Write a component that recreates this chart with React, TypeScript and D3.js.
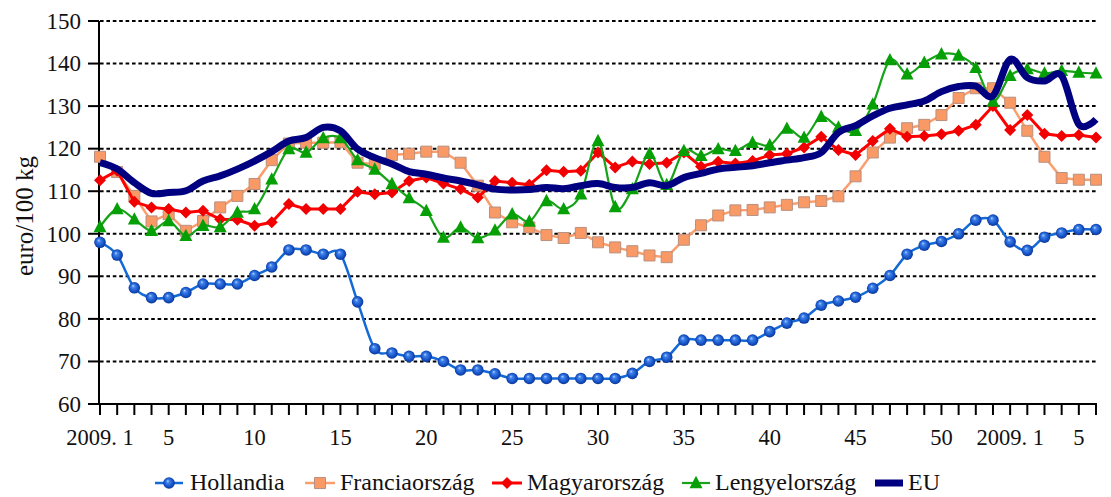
import React from "react";
import * as d3 from "d3";

// weekly categories: 2009 week 1..53, then next year 1..6
const weeks = [
  "1", "2", "3", "4", "5", "6", "7", "8", "9", "10",
  "11", "12", "13", "14", "15", "16", "17", "18", "19", "20",
  "21", "22", "23", "24", "25", "26", "27", "28", "29", "30",
  "31", "32", "33", "34", "35", "36", "37", "38", "39", "40",
  "41", "42", "43", "44", "45", "46", "47", "48", "49", "50",
  "51", "52", "53", "1", "2", "3", "4", "5", "6",
];

const tickLabelIndex = [0, 4, 9, 14, 19, 24, 29, 34, 39, 44, 49, 53, 57];
const tickLabelText = ["2009. 1", "5", "10", "15", "20", "25", "30", "35", "40", "45", "50", "2009. 1", "5"];

const yTicks = [60, 70, 80, 90, 100, 110, 120, 130, 140, 150];

const hollandia = [
  98, 95, 87.3, 85, 85, 86.2, 88.2, 88.2, 88.2, 90.2,
  92.2, 96.2, 96.2, 95.2, 95.2, 84, 73, 72, 71.2, 71.2,
  70, 68, 68, 67.1, 66, 66, 66, 66, 66, 66,
  66, 67.2, 70, 71, 75, 75, 75, 75, 75, 77,
  79, 80.2, 83.2, 84.2, 85.1, 87.2, 90.2, 95.2, 97.3, 98.2,
  100, 103.2, 103.2, 98.1, 96.1, 99.2, 100.2, 101, 101,
];

const franciaorszag = [
  118.1, 114.5, 108.9, 102.9, 104.6, 100.7, 103, 106.2, 108.9, 111.7,
  117.3, 121.2, 121.4, 121.4, 121.5, 116.7, 116.4, 118.5, 118.8, 119.3,
  119.3, 116.7, 111.3, 105, 102.7, 101.5, 99.7, 99, 100.2, 98,
  96.8, 95.9, 94.9, 94.5, 98.6, 102, 104.3, 105.5, 105.6, 106.2,
  106.8, 107.4, 107.7, 108.8, 113.5, 119.1, 122.6, 124.8, 125.6, 127.9,
  131.9, 134.2, 134.2, 130.8, 124.2, 118.1, 113.1, 112.7, 112.7,
];

const magyarorszag = [
  112.6, 114.8, 107.5, 106.2, 105.8, 105, 105.4, 103.4, 103.3, 101.9,
  102.7, 107, 105.8, 105.8, 105.8, 109.9, 109.3, 109.7, 112.4, 113.2,
  111.8, 110.5, 108.5, 112.4, 112, 111.5, 114.9, 114.6, 114.8, 119.1,
  115.6, 117, 116.4, 116.7, 119.1, 115.8, 116.9, 116.5, 117.1, 118.5,
  118.8, 120.3, 122.8, 119.7, 118.5, 121.8, 124.7, 122.8, 123, 123.4,
  124.2, 125.6, 130, 124.4, 127.9, 123.5, 123, 123.2, 122.6,
];

const lengyelorszag = [
  101.6, 105.8, 103.4, 100.7, 103, 99.5, 101.9, 101.6, 105, 105.8,
  112.8, 119.9, 119.1, 122.5, 122.5, 117.3, 115.1, 111.7, 108.4, 105.4,
  99.1, 101.5, 99, 100.8, 104.6, 102.9, 107.7, 105.8, 109.3, 121.8,
  106.3, 110.5, 118.8, 111.5, 119.5, 118.3, 119.9, 119.5, 121.4, 120.8,
  124.7, 122.6, 127.5, 125, 124.2, 130.4, 140.8, 137.5, 140.2, 142.2,
  141.9, 139, 131.1, 137.1, 138.7, 137.7, 138.3, 137.9, 137.7,
];

const eu = [
  116.7, 115.2, 112, 109.5, 109.7, 110.1, 112.4, 113.6, 115.2, 117.1,
  119.3, 121.8, 122.6, 125, 124.2, 119.9, 117.9, 116.4, 114.6, 114,
  113.1, 112.4, 111.5, 110.5, 110.3, 110.4, 110.9, 110.6, 111.3, 111.8,
  110.9, 110.9, 112, 111.3, 113.2, 114.2, 115.2, 115.6, 116, 116.7,
  117.3, 117.9, 119.1, 123.8, 125.4, 127.7, 129.5, 130.3, 131.2, 133.4,
  134.6, 134.7, 132.4, 141, 136.7, 135.9, 137.1, 125.7, 126.9,
];

const seriesNames = ["Hollandia", "Franciaország", "Magyarország", "Lengyelország", "EU"];

const W = 1111;
const H = 497;
const FONT = "Liberation Serif, Times New Roman, Times, DejaVu Serif";

const x = d3.scaleLinear().domain([0, weeks.length - 1]).range([100, 1096]);
const y = d3.scaleLinear().domain([60, 150]).range([404, 21]);

const straight = d3
  .line<number>()
  .x((_, i) => x(i))
  .y((d) => y(d));
const smooth = d3
  .line<number>()
  .x((_, i) => x(i))
  .y((d) => y(d))
  .curve(d3.curveCatmullRom.alpha(0));

const square = (s: number) => `M${-s / 2},${-s / 2}h${s}v${s}h${-s}Z`;
const diamond = (s: number) => `M0,${-s / 2}L${s / 2},0L0,${s / 2}L${-s / 2},0Z`;
const triangle = (s: number) => `M0,${-s * 0.55}L${s / 2},${s * 0.4}L${-s / 2},${s * 0.4}Z`;

const Ball = ({ cx, cy }: { cx: number; cy: number }) => (
  <circle cx={cx} cy={cy} r={5.8} fill="url(#ball)" />
);

export default function App() {
  const axisY = y(60);
  const legendY = 483;

  return (
    <svg
      width={W}
      height={H}
      style={{ position: "absolute", left: 0, top: 0, background: "#fff", fontFamily: FONT }}
    >
      <defs>
        <radialGradient id="ball" cx="50%" cy="50%" r="55%" fx="38%" fy="32%">
          <stop offset="0%" stopColor="#b8d4ff" />
          <stop offset="25%" stopColor="#3f82ea" />
          <stop offset="70%" stopColor="#1450c4" />
          <stop offset="100%" stopColor="#0a2f85" />
        </radialGradient>
      </defs>

      {/* gridlines */}
      {yTicks
        .filter((t) => t > 60)
        .map((t) => (
          <line
            key={"g" + t}
            x1={x(0)}
            x2={x(weeks.length - 1)}
            y1={y(t)}
            y2={y(t)}
            stroke="#000"
            strokeWidth={2}
            strokeDasharray="3.6 2.8"
          />
        ))}

      {/* y axis */}
      <line x1={99} x2={99} y1={y(150)} y2={axisY} stroke="#000" strokeWidth={2} />
      {yTicks.map((t) => (
        <g key={"y" + t}>
          <line x1={88} x2={99} y1={y(t)} y2={y(t)} stroke="#000" strokeWidth={2} />
          <text x={81} y={y(t)} dy="0.34em" textAnchor="end" fontSize={23} fill="#111">
            {t}
          </text>
        </g>
      ))}

      {/* x axis */}
      <line x1={99} x2={x(weeks.length - 1) + 1} y1={axisY} y2={axisY} stroke="#000" strokeWidth={2} />
      {weeks.map((w, i) => (
        <line key={"xt" + i} x1={x(i)} x2={x(i)} y1={axisY} y2={axisY + 11} stroke="#000" strokeWidth={2} />
      ))}
      {tickLabelIndex.map((idx, k) => (
        <text key={"xl" + k} x={x(idx)} y={445} textAnchor="middle" fontSize={22.5} fill="#111">
          {tickLabelText[k]}
        </text>
      ))}

      {/* y axis title */}
      <text
        transform={`translate(33,${216}) rotate(-90)`}
        textAnchor="middle"
        fontSize={25}
        fill="#111"
      >
        euro/100 kg
      </text>

      {/* Hollandia */}
      <path d={smooth(hollandia) || ""} fill="none" stroke="#136ad6" strokeWidth={2.5} />
      {hollandia.map((v, i) => (
        <Ball key={"h" + i} cx={x(i)} cy={y(v)} />
      ))}

      {/* Franciaország */}
      <path d={straight(franciaorszag) || ""} fill="none" stroke="#fb9e6e" strokeWidth={2.5} />
      {franciaorszag.map((v, i) => (
        <path
          key={"f" + i}
          d={square(11)}
          transform={`translate(${x(i)},${y(v)})`}
          fill="#f99a66"
          stroke="#b89080"
          strokeWidth={1}
        />
      ))}

      {/* Magyarország */}
      <path d={straight(magyarorszag) || ""} fill="none" stroke="#ff0000" strokeWidth={3} />
      {magyarorszag.map((v, i) => (
        <path key={"m" + i} d={diamond(12)} transform={`translate(${x(i)},${y(v)})`} fill="#f00000" />
      ))}

      {/* Lengyelország */}
      <path d={smooth(lengyelorszag) || ""} fill="none" stroke="#17a317" strokeWidth={2.2} />
      {lengyelorszag.map((v, i) => (
        <path key={"l" + i} d={triangle(13)} transform={`translate(${x(i)},${y(v)})`} fill="#06a006" />
      ))}

      {/* EU */}
      <path d={smooth(eu) || ""} fill="none" stroke="#000080" strokeWidth={7} strokeLinejoin="round" />

      {/* legend */}
      <g fontSize={24} fill="#111">
        <line x1={155} x2={183} y1={legendY} y2={legendY} stroke="#136ad6" strokeWidth={2.5} />
        <Ball cx={169} cy={legendY} />
        <text x={190} y={legendY} dy="0.3em">{seriesNames[0]}</text>

        <line x1={305} x2={335} y1={legendY} y2={legendY} stroke="#fb9e6e" strokeWidth={2.5} />
        <path d={square(11)} transform={`translate(320,${legendY})`} fill="#f99a66" stroke="#b89080" />
        <text x={340} y={legendY} dy="0.3em">{seriesNames[1]}</text>

        <line x1={492} x2={522} y1={legendY} y2={legendY} stroke="#ff0000" strokeWidth={3} />
        <path d={diamond(12)} transform={`translate(507,${legendY})`} fill="#f00000" />
        <text x={527} y={legendY} dy="0.3em">{seriesNames[2]}</text>

        <line x1={682} x2={710} y1={legendY} y2={legendY} stroke="#17a317" strokeWidth={2.2} />
        <path d={triangle(13)} transform={`translate(696,${legendY})`} fill="#06a006" />
        <text x={715} y={legendY} dy="0.3em">{seriesNames[3]}</text>

        <line x1={875} x2={903} y1={legendY} y2={legendY} stroke="#000080" strokeWidth={7} />
        <text x={908} y={legendY} dy="0.3em">{seriesNames[4]}</text>
      </g>
    </svg>
  );
}
